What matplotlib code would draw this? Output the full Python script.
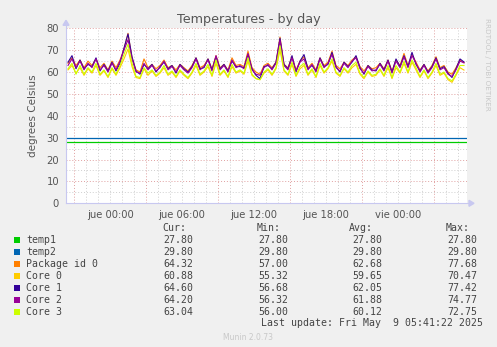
import numpy as np
import matplotlib
matplotlib.use("Agg")
import matplotlib.pyplot as plt
from matplotlib.patches import Rectangle

# muestras cada 20 min, desde mie 20:30 (horas relativas a jue 00:00)
t_start = -3.5
t_step = 1 / 3

temp1 = 27.8
temp2 = 29.8

package = [64, 66.5, 63, 65.5, 62, 65, 63, 66, 62, 64, 61, 65, 62, 65.5, 70.5, 77.7, 66.5, 61, 60, 66,
           62, 63.5, 61.5, 63, 65.5, 62, 63, 61, 63.5, 62, 60.5, 63, 66.5, 62, 63, 66, 61.5, 67.5, 62, 63.5,
           61, 66.5, 63, 63.5, 62.5, 69.5, 62, 60, 59, 63, 64, 62, 64.5, 76, 63.5, 62, 67, 61, 65, 67,
           62, 64, 61, 66.5, 63, 64.5, 69.5, 63, 61.5, 64.5, 63, 65.5, 67, 62.5, 60.5, 63, 61.5, 62, 64, 61.5,
           65.5, 60.5, 65.5, 63, 68.5, 63, 68, 64.5, 61, 63.5, 60.5, 63, 67, 62, 63, 60, 59, 62, 65.5, 64.3]
core0 = [61, 63, 59.5, 62, 58.5, 61.5, 59.5, 63, 58.5, 60.5, 57.5, 61.5, 58.5, 62, 66, 70.5, 62.5, 57.5, 57, 61.5,
         58.5, 60.5, 58, 59.5, 62, 58.5, 60, 57.5, 60.5, 58.5, 57, 59.5, 63, 58.5, 60, 62.5, 58, 64, 58.5, 60.5,
         57.5, 62.5, 59.5, 60.5, 59, 65, 58.5, 57, 56.5, 59.5, 61, 58.5, 61.5, 70, 60.5, 58.5, 63.5, 58, 61.5, 63,
         58.5, 61, 57.5, 63, 59.5, 61.5, 65, 59.5, 58, 61.5, 59.5, 62, 63.5, 59, 57, 60, 58, 58.5, 61, 58,
         62, 57, 62, 59.5, 64, 59.5, 64.5, 61, 57.5, 60.5, 57, 59.5, 63, 58.5, 59.5, 56.5, 55.3, 58.5, 62, 60.9]
core1 = [64.5, 67.5, 61.5, 65.5, 61.5, 63.5, 62.5, 66.5, 60.5, 63.5, 60.5, 64.5, 60.5, 64, 71, 77.4, 67, 60.5, 59, 63.5,
         61.5, 63.5, 60, 62.5, 64.5, 61.5, 63, 59.5, 63.5, 61.5, 60, 62.5, 66.5, 61.5, 62, 66, 61, 67, 61.5, 63.5,
         60.5, 65, 62.5, 62.5, 62, 68, 61.5, 58.5, 57, 62.5, 63, 61.5, 64.5, 75.5, 63.5, 61.5, 67.5, 60, 65, 68,
         61.5, 63, 60.5, 66.5, 62.5, 63.5, 69, 62.5, 60, 64.5, 62.5, 64.5, 67.5, 62, 59, 63, 61, 60.5, 64, 61,
         65.5, 60, 66, 62.5, 67.5, 62.5, 69, 63.5, 60.5, 63.5, 60, 62.5, 66.5, 61.5, 62.5, 59.5, 57.5, 61.5, 66, 64.6]
core2 = [63, 66, 62, 65, 61, 64, 62, 66, 61, 63, 60, 64, 61, 65, 70, 74.8, 66, 60, 59.5, 64,
         61, 63, 60.5, 62, 65, 61, 62.5, 60, 63, 61, 59.5, 62, 66, 61, 62.5, 65.5, 60.5, 67.5, 61, 63,
         60, 65.5, 62, 63, 61.5, 68.5, 61, 59, 58.5, 62, 63.5, 61, 64, 74.5, 63, 61, 66.5, 60.5, 64.5, 66,
         61, 63.5, 60, 66, 62, 64, 68, 62, 60.5, 64, 62, 65, 66.5, 61.5, 59.5, 62.5, 60.5, 61, 63.5, 60.5,
         65, 59.5, 65, 62, 67, 62, 67.5, 64, 60, 63, 59.5, 62, 66, 61, 62, 59, 58, 61, 65, 64.2]
core3 = [61.5, 64, 59, 63, 59, 62, 60, 64, 59, 61, 58, 62, 59, 63, 68, 72.7, 64, 58, 57.5, 62,
         59.5, 61, 58.5, 60, 63, 59, 60.5, 58, 61, 59, 57.5, 60, 64, 59, 60.5, 63.5, 58.5, 65.5, 59, 61,
         58, 63.5, 60, 61, 59.5, 66.5, 59, 57, 56.5, 60, 61.5, 59, 62, 72, 61, 59, 64.5, 58.5, 62.5, 64,
         59, 61.5, 58, 64, 60, 62, 66, 60, 58.5, 62, 60, 63, 64.5, 59.5, 57.5, 60.5, 58.5, 59, 61.5, 58.5,
         63, 57.5, 63, 60, 65, 60, 65.5, 62, 58, 61, 57.5, 60, 64, 59, 60, 57, 56, 59, 63, 63.0]

names = ["temp1", "temp2", "Package id 0", "Core 0", "Core 1", "Core 2", "Core 3"]
colors = ["#00CC00", "#0066B3", "#FF8000", "#FFCC00", "#330099", "#990099", "#CCFF00"]
cur = ["27.80", "29.80", "64.32", "60.88", "64.60", "64.20", "63.04"]
mins = ["27.80", "29.80", "57.00", "55.32", "56.68", "56.32", "56.00"]
avgs = ["27.80", "29.80", "62.68", "59.65", "62.05", "61.88", "60.12"]
maxs = ["27.80", "29.80", "77.68", "70.47", "77.42", "74.77", "72.75"]

xticks = [0, 6, 12, 18, 24]
xlabels = ["jue 00:00", "jue 06:00", "jue 12:00", "jue 18:00", "vie 00:00"]

W, H = 497, 347
fig = plt.figure(figsize=(W / 100, H / 100), dpi=100, facecolor="#F0F0F0")


def fx(px):
    return px / W


def fy(py):
    return 1 - py / H


x0, x1, ytop, ybot = 66, 467, 28.3, 203.3
ax = fig.add_axes([fx(x0), fy(ybot), fx(x1) - fx(x0), fy(ytop) - fy(ybot)])
ax.set_facecolor("white")
xmin, xmax = -3.667, 29.75
ax.set_xlim(xmin, xmax)
ax.set_ylim(0, 80)

# rejilla
for h in np.arange(-3, 30, 1):
    major = (h + 3) % 6 == 0
    ax.axvline(h, color="#E0A0A0" if major else "#CFCFCF", lw=0.7, ls=(0, (1, 2)), zorder=0)
for v in range(5, 80, 5):
    major = v % 10 == 0
    ax.axhline(v, color="#E0A0A0" if major else "#CFCFCF", lw=0.7, ls=(0, (1, 2)), zorder=0)
ax.axhline(80, color="#E0A0A0", lw=0.7, ls=(0, (1, 2)), zorder=0)

t = t_start + t_step * np.arange(len(core2))
ax.plot([xmin + 0.1, xmax - 0.1], [temp1, temp1], color=colors[0], lw=0.9)
ax.plot([xmin + 0.1, xmax - 0.1], [temp2, temp2], color=colors[1], lw=0.9)
for series, c in zip([package, core0, core1, core2, core3], colors[2:]):
    ax.plot(t, series, color=c, lw=0.8)

for s in ax.spines.values():
    s.set_visible(False)
ax.set_xticks(xticks)
ax.set_xticklabels(xlabels)
ax.set_yticks(range(0, 81, 10))
ax.tick_params(length=0, labelsize=7.2, colors="#555555", pad=5)
ax.set_ylabel("degrees Celsius", fontsize=7.5, color="#555555", labelpad=6)

# ejes con flechas
axis_c = "#C8C8F0"
fig.add_artist(plt.Line2D([fx(x0), fx(x1 + 2)], [fy(ybot), fy(ybot)], color=axis_c, lw=0.8))
fig.add_artist(plt.Line2D([fx(x0), fx(x0)], [fy(ybot), fy(ytop - 3)], color=axis_c, lw=0.8))
fig.add_artist(plt.Polygon([[fx(x1 + 2), fy(ybot - 3)], [fx(x1 + 2), fy(ybot + 3)], [fx(x1 + 7), fy(ybot)]],
                           closed=True, color=axis_c, transform=fig.transFigure))
fig.add_artist(plt.Polygon([[fx(x0 - 3), fy(ytop - 3)], [fx(x0 + 3), fy(ytop - 3)], [fx(x0), fy(ytop - 8)]],
                           closed=True, color=axis_c, transform=fig.transFigure))

fig.text(fx(249), fy(19), "Temperatures - by day", ha="center", va="center", fontsize=9.2, color="#555555")
fig.text(fx(487), fy(18), "RRDTOOL / TOBI OETIKER", rotation=270, ha="center", va="top",
         fontsize=5.2, color="#C8C8C8")

# leyenda
mono = "DejaVu Sans Mono"
fs = 7.1
tc = "#444444"
fig.text(fx(186), fy(228), "Cur:", ha="right", va="center", family=mono, fontsize=fs, color=tc)
fig.text(fx(281), fy(228), "Min:", ha="right", va="center", family=mono, fontsize=fs, color=tc)
fig.text(fx(373), fy(228), "Avg:", ha="right", va="center", family=mono, fontsize=fs, color=tc)
fig.text(fx(470), fy(228), "Max:", ha="right", va="center", family=mono, fontsize=fs, color=tc)
for i, name in enumerate(names):
    yy = 240 + 12 * i
    fig.add_artist(Rectangle((fx(14), fy(yy + 3)), fx(6), 6 / H, transform=fig.transFigure,
                             facecolor=colors[i], edgecolor="none"))
    fig.text(fx(26), fy(yy), name, ha="left", va="center", family=mono, fontsize=fs, color=tc)
    fig.text(fx(193), fy(yy), cur[i], ha="right", va="center", family=mono, fontsize=fs, color=tc)
    fig.text(fx(288), fy(yy), mins[i], ha="right", va="center", family=mono, fontsize=fs, color=tc)
    fig.text(fx(382), fy(yy), avgs[i], ha="right", va="center", family=mono, fontsize=fs, color=tc)
    fig.text(fx(477), fy(yy), maxs[i], ha="right", va="center", family=mono, fontsize=fs, color=tc)
fig.text(fx(483), fy(323.5), "Last update: Fri May  9 05:41:22 2025", ha="right", va="center",
         family=mono, fontsize=fs, color=tc)
fig.text(fx(248), fy(337), "Munin 2.0.73", ha="center", va="center", fontsize=5.5, color="#C8C8C8")

fig.savefig("out.png", dpi=100, facecolor=fig.get_facecolor())
